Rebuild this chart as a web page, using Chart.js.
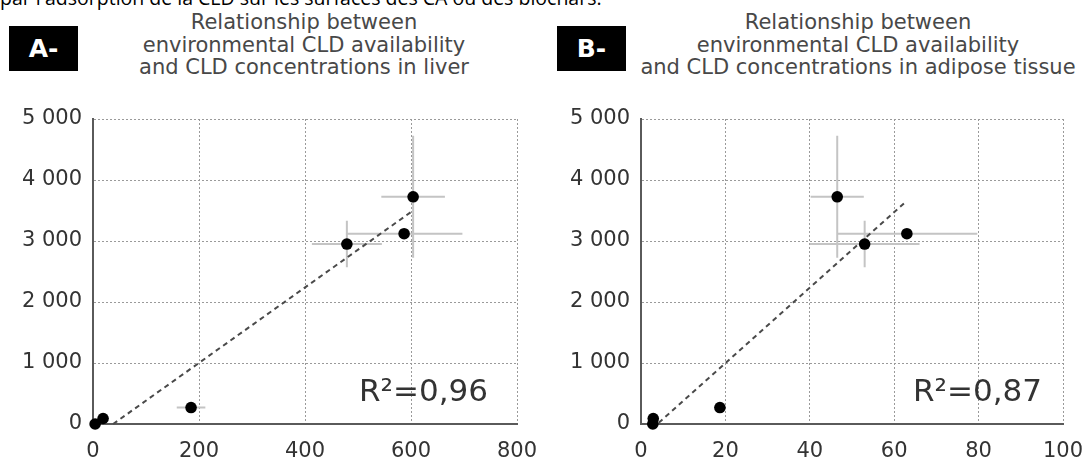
<!DOCTYPE html>
<html lang="fr">
<head>
<meta charset="UTF-8">
<title>CLD availability vs CLD concentrations</title>
<script src="https://cdn.jsdelivr.net/npm/chart.js@4.4.1/dist/chart.umd.min.js"></script>
<style>
    body {
        margin: 0;
        width: 1086px;
        height: 462px;
        overflow: hidden;
        position: relative;
        background: #fff;
        font-family: 'DejaVu Sans', sans-serif;
    }
    .intro {
        position: absolute;
        left: 0;
        top: -12px;
        font-family: 'Open Sans', sans-serif;
        font-size: 19.5px;
        line-height: 20px;
        color: #000;
        white-space: nowrap;
    }
    .tag {
        position: absolute;
        top: 26px;
        width: 69px;
        height: 45px;
        background: #000;
        color: #fff;
        font-weight: bold;
        font-size: 25px;
        display: flex;
        align-items: center;
        justify-content: center;
    }
    .title {
        position: absolute;
        top: 11px;
        width: 520px;
        text-align: center;
        font-size: 21px;
        line-height: 22.5px;
        color: #484848;
        white-space: nowrap;
    }
    .r2 {
        position: absolute;
        top: 375px;
        font-size: 31px;
        line-height: 31px;
        color: #333;
        white-space: nowrap;
    }
    canvas { position: absolute; top: 0; }
</style>
</head>
<body>
<div class="intro">par l'adsorption de la CLD sur les surfaces des CA ou des biochars.</div>

<div class="tag" style="left:9px">A-</div>
<div class="title" style="left:44px">Relationship between<br>environmental CLD availability<br>and CLD concentrations in liver</div>
<div class="tag" style="left:557px">B-</div>
<div class="title" style="left:598px">Relationship between<br>environmental CLD availability<br>and CLD concentrations in adipose tissue</div>

<canvas id="chartA" width="543" height="462" style="left:0"></canvas>
<canvas id="chartB" width="560" height="462" style="left:543px"></canvas>

<div class="r2" style="right:598px">R²=0,96</div>
<div class="r2" style="right:44px">R²=0,87</div>

<script>
// values
const yValues = [0, 90, 270, 2950, 3120, 3725];
const yErr    = [0, 0, 0, 380, 60, 1000];

// panel A (liver)
const xA    = [4, 19, 185, 479, 587, 604];
const xErrA = [0, 0, 27, 66, 110, 60];
const trendA = [{x: 38, y: 0}, {x: 604, y: 3500}];

// panel B (adipose tissue)
const xB    = [2.8, 2.9, 18.7, 53, 63, 46.5];
const xErrB = [0, 0, 0, 13, 16.7, 6.3];
const trendB = [{x: 4.2, y: 20}, {x: 63, y: 3660}];

const yTicks = [0, 1000, 2000, 3000, 4000, 5000];
const yTickLabels = ['0', '1 000', '2 000', '3 000', '4 000', '5 000'];

const tickFont = {family: 'DejaVu Sans', size: 21};
const tickColor = '#333';

// error bars as one broken line (null y splits the segments)
function errorSegments(xs, ys, xe, ye) {
    const pts = [];
    xs.forEach((x, i) => {
        if (xe[i]) pts.push({x: x - xe[i], y: ys[i]}, {x: x + xe[i], y: ys[i]}, {x: x, y: null});
        if (ye[i]) pts.push({x: x, y: ys[i] - ye[i]}, {x: x, y: ys[i] + ye[i]}, {x: x, y: null});
    });
    return pts;
}

function makePanel(id, xs, xe, trend, xMax, xStep, yAxisWidth, padRight) {
    const ctx = document.getElementById(id).getContext('2d');
    return new Chart(ctx, {
        type: 'scatter',
        data: {
            datasets: [
                {
                    data: xs.map((x, i) => ({x: x, y: yValues[i]})),
                    pointRadius: 5.8,
                    pointBackgroundColor: '#000',
                    pointBorderWidth: 0,
                    clip: false,
                    order: 0
                },
                {
                    data: trend,
                    showLine: true,
                    borderColor: '#4a4a4a',
                    borderWidth: 2,
                    borderDash: [5, 4],
                    pointRadius: 0,
                    clip: false,
                    order: 1
                },
                {
                    data: errorSegments(xs, yValues, xe, yErr),
                    showLine: true,
                    spanGaps: false,
                    borderColor: '#c4c4c4',
                    borderWidth: 2,
                    pointRadius: 0,
                    clip: false,
                    order: 2
                }
            ]
        },
        options: {
            responsive: false,
            animation: false,
            events: [],
            layout: {padding: {top: 119, right: padRight, left: 0, bottom: 0}},
            plugins: {legend: {display: false}, tooltip: {enabled: false}},
            scales: {
                x: {
                    type: 'linear',
                    min: 0,
                    max: xMax,
                    // fixed axis box, no extra room for the edge labels
                    afterFit: s => { s.height = 38; s.paddingLeft = 0; s.paddingRight = 0; },
                    ticks: {stepSize: xStep, font: tickFont, color: tickColor, padding: 15, maxRotation: 0},
                    grid: {color: '#9a9a9a', lineWidth: 1, drawTicks: false},
                    border: {display: true, color: '#5a5a5a', width: 2, dash: [2, 2]}
                },
                y: {
                    min: 0,
                    max: 5000,
                    afterFit: s => { s.width = yAxisWidth; s.paddingTop = 0; s.paddingBottom = 0; },
                    ticks: {
                        stepSize: 1000,
                        font: tickFont,
                        color: tickColor,
                        padding: 11,
                        callback: v => yTickLabels[yTicks.indexOf(v)]
                    },
                    grid: {color: '#9a9a9a', lineWidth: 1, drawTicks: false},
                    border: {display: true, color: '#5a5a5a', width: 2, dash: [2, 2]}
                }
            }
        }
    });
}

makePanel('chartA', xA, xErrA, trendA, 800, 200, 93, 26);
makePanel('chartB', xB, xErrB, trendB, 100, 20, 98, 40);
</script>
</body>
</html>
